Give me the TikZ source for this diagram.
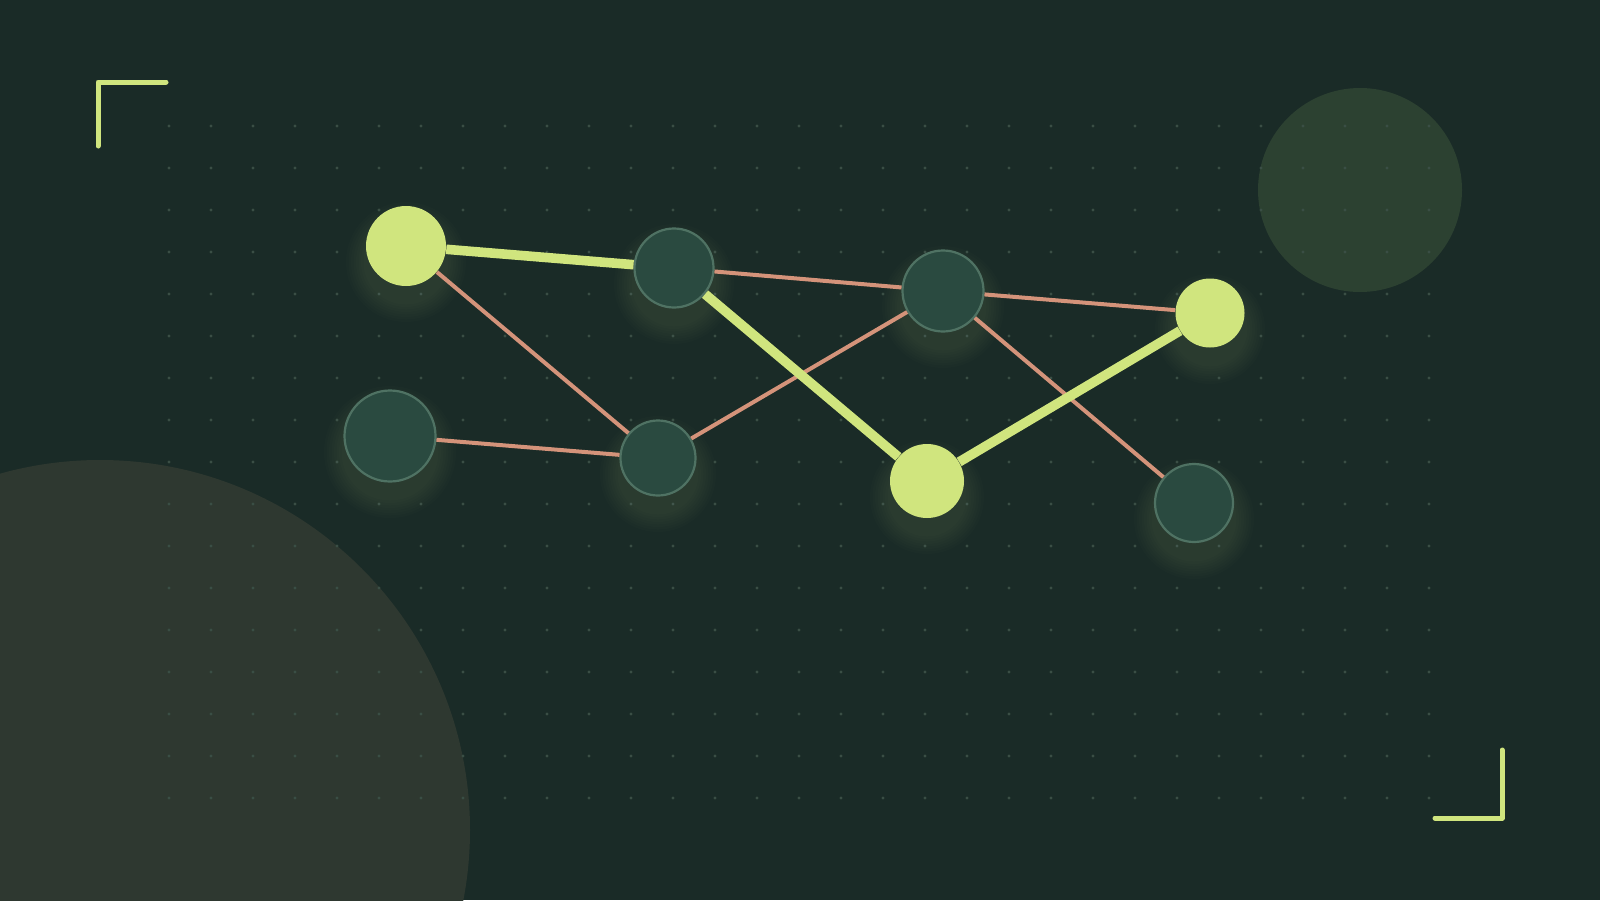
\documentclass[tikz,border=0pt]{standalone}
\definecolor{bgc}{HTML}{1A2B27}
\definecolor{blobtr}{HTML}{2C4131}
\definecolor{blobbl}{HTML}{2E3830}
\definecolor{dotc}{HTML}{3A4E45}
\definecolor{limec}{HTML}{D0E57E}
\definecolor{darkfill}{HTML}{2A4A40}
\definecolor{darkstroke}{HTML}{4F7263}
\definecolor{salmon}{HTML}{D4937A}
\definecolor{glowc}{HTML}{A9BE98}
\begin{document}
\begin{tikzpicture}[x=0.5pt,y=-0.5pt,
  limenode/.style={circle,fill=limec,draw=none,inner sep=0pt},
  darknode/.style={circle,fill=darkfill,draw=darkstroke,line width=1.1pt,inner sep=0pt},
  hot/.style={draw=limec,line width=4.8pt},
  cold/.style={draw=salmon,line width=2pt},
  bracket/.style={draw=limec,line width=2.5pt,line cap=round,line join=round}]
\fill[bgc] (0,0) rectangle (1600,900);
\useasboundingbox (0,0) rectangle (1600,900);
\clip (0,0) rectangle (1600,900);
% background blobs
\fill[blobtr] (1360,190) circle[radius=102];
\fill[blobbl] (100,830) circle[radius=370];
% dot grid
\foreach \i in {0,...,30}{
  \foreach \j in {0,...,16}{
    \fill[dotc] ({169+42*\i},{126+42*\j}) circle[radius=1.6];
  }
}
% corner brackets
\draw[bracket] (166,82) -- (98,82) -- (98,146);
\draw[bracket] (1502,750) -- (1502,818) -- (1435,818);
% glows
\foreach \px/\py/\r in {406/246/40,674/268/40,390/436/46,658/458/38,943/291/41,1210/313/35,927/481/37,1194/503/40}{
  \foreach \k in {1,...,8}{
    \fill[glowc,opacity=0.016] (\px,\py+16) circle[radius={\r+2.5*\k}];
  }
}
% nodes
\node[limenode,minimum size=40pt] (a) at (406,246) {};
\node[darknode,minimum size=39.5pt] (b) at (674,268) {};
\node[darknode,minimum size=45.5pt] (c) at (390,436) {};
\node[darknode,minimum size=37.5pt] (d) at (658,458) {};
\node[darknode,minimum size=40.5pt] (e) at (943,291) {};
\node[limenode,minimum size=34.5pt] (f) at (1210,313) {};
\node[limenode,minimum size=37pt] (g) at (927,481) {};
\node[darknode,minimum size=39pt] (h) at (1194,503) {};
% edges
\draw[cold] (a) -- (d);
\draw[cold] (c) -- (d);
\draw[cold] (d) -- (e);
\draw[cold] (b) -- (e);
\draw[cold] (e) -- (f);
\draw[cold] (e) -- (h);
\draw[hot] (a) -- (b);
\draw[hot] (b) -- (g);
\draw[hot] (g) -- (f);
\end{tikzpicture}
\end{document}
